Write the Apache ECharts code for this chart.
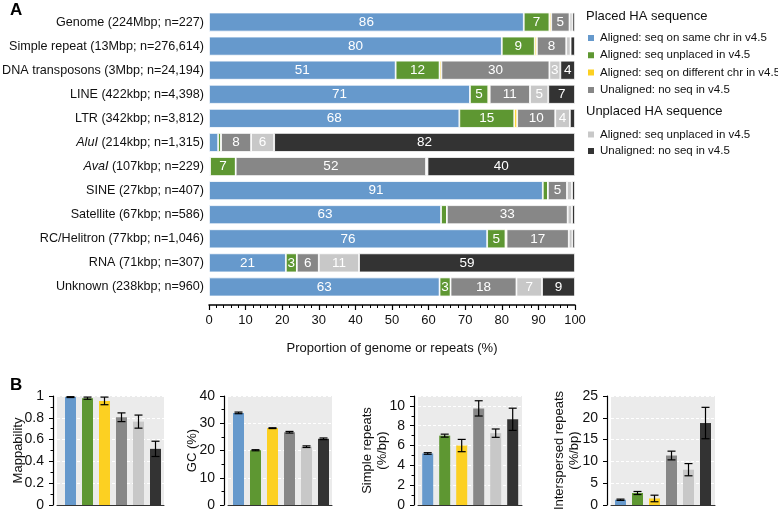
<!DOCTYPE html>
<html><head><meta charset="utf-8">
<script src="https://cdn.jsdelivr.net/npm/echarts@6/dist/echarts.min.js"></script>
<style>html,body{margin:0;padding:0;background:#fff}#c{width:778px;height:510px}</style>
</head><body><div id="c"></div>
<script>
// ---------- Panel A data ----------
const categories = [
  'Genome (224Mbp; n=227)',
  'Simple repeat (13Mbp; n=276,614)',
  'DNA transposons (3Mbp; n=24,194)',
  'LINE (422kbp; n=4,398)',
  'LTR (342kbp; n=3,812)',
  'AluI (214kbp; n=1,315)',
  'AvaI (107kbp; n=229)',
  'SINE (27kbp; n=407)',
  'Satellite (67kbp; n=586)',
  'RC/Helitron (77kbp; n=1,046)',
  'RNA (71kbp; n=307)',
  'Unknown (238kbp; n=960)'
];
const italicNames = ['AluI', 'AvaI'];
const sameChr     = [86, 80, 51, 71.3, 68.4, 2.5, 0.3, 91.2, 63.4, 76, 21, 63];
const unplacedV45 = [7, 9, 12, 5, 15, 0.8, 7, 1.4, 1.6, 5, 3, 3];
const diffChr     = [0.5, 0.6, 0.5, 0.4, 0.8, 0, 0, 0, 0, 0.3, 0, 0];
const noSeq       = [5, 8, 29.5, 11, 10.4, 8.2, 52, 5.2, 33, 17, 6, 18];
const unplAligned = [0.8, 1.2, 3, 5, 4, 6.3, 0.4, 1.4, 1.2, 1, 11, 7];
const unplNoSeq   = [0.7, 1.2, 4, 7.3, 1.4, 82.2, 40.3, 0.8, 0.8, 0.7, 59, 9];
const xTicksA = {min: 0, max: 100, interval: 10};

const legendPlaced = ['Aligned: seq on same chr in v4.5', 'Aligned: seq unplaced in v4.5',
  'Aligned: seq on different chr in v4.5', 'Unaligned: no seq in v4.5'];
const legendUnplaced = ['Aligned: seq unplaced in v4.5', 'Unaligned: no seq in v4.5'];

// ---------- Panel B data ----------
const panelTitles = ['Mappability', 'GC (%)', 'Simple repeats\n(%/bp)', 'Interspersed repeats\n(%/bp)'];
const mapVals  = [0.99, 0.98, 0.955, 0.805, 0.765, 0.515];
const mapErr   = [0.004, 0.01, 0.035, 0.04, 0.06, 0.07];
const gcVals   = [33.8, 20.1, 28.2, 26.7, 21.4, 24.3];
const gcErr    = [0.3, 0.2, 0.15, 0.3, 0.3, 0.3];
const simpVals = [5.2, 7.0, 6.0, 9.75, 7.25, 8.65];
const simpErr  = [0.08, 0.15, 0.62, 0.77, 0.42, 1.12];
const intVals  = [1.2, 2.75, 1.5, 11.35, 8.1, 18.8];
const intErr   = [0.15, 0.35, 0.75, 1.0, 1.4, 3.6];
const yAxesB = [
  {max: 1, interval: 0.2, minor: true},
  {max: 40, interval: 10, minor: true},
  {max: 11, interval: 2, minor: true},
  {max: 25, interval: 5, minor: false}
];

const colors = ['#6699cc', '#5e9732', '#fcd022', '#878787', '#c8c8c8', '#333333'];
const FONT = '"Liberation Sans", Arial, Helvetica, sans-serif';

const chart = echarts.init(document.getElementById('c'), null, {renderer: 'canvas'});

const seriesNames = ['same', 'unpl', 'diff', 'noseq', 'uAl', 'uNo'];
const seriesData = [sameChr, unplacedV45, diffChr, noSeq, unplAligned, unplNoSeq];
const displayNames = {same: legendPlaced[0], unpl: legendPlaced[1], diff: legendPlaced[2],
  noseq: legendPlaced[3], uAl: legendUnplaced[0], uNo: legendUnplaced[1]};

const series = seriesData.map((d, k) => ({
  name: seriesNames[k], type: 'bar', stack: 'a', xAxisIndex: 0, yAxisIndex: 0,
  barWidth: 19, data: d,
  itemStyle: {color: colors[k], borderColor: '#fff', borderWidth: 0.8},
  label: {show: true, position: 'inside', color: '#fff', fontSize: 13.5, fontFamily: FONT,
    formatter: p => (p.value >= 2.8 ? String(Math.round(p.value)) : '')},
  emphasis: {disabled: true}
}));

// panel B grids
const gridLefts = [57, 228, 418, 611];
const gridWidths = [107, 104, 104, 104];
const blueCenters = [70.5, 238.5, 427.7, 620.5];
const nameGaps = [27, 24, 24, 25];
const pitch = 17;
const grids = [{left: 209, top: 10, width: 366, height: 289, outerBoundsMode: 'none', containLabel: false}];
const xAxes = [{
  gridIndex: 0, type: 'value', min: xTicksA.min, max: xTicksA.max, interval: xTicksA.interval,
  offset: 6,
  axisLine: {show: true, lineStyle: {color: '#000', width: 1.5}},
  axisTick: {show: true, length: 5, lineStyle: {color: '#000', width: 1.2}},
  minorTick: {show: true, splitNumber: 5, length: 3, lineStyle: {color: '#000', width: 1}},
  splitLine: {show: false},
  axisLabel: {fontSize: 13, color: '#111', fontFamily: FONT, margin: 9},
  name: 'Proportion of genome or repeats (%)', nameLocation: 'middle', nameGap: 37,
  nameMoveOverlap: false,
  nameTextStyle: {fontSize: 13, color: '#111', fontFamily: FONT}
}];
const yAxes = [{
  gridIndex: 0, type: 'category', data: categories, inverse: true,
  axisLine: {show: false}, axisTick: {show: false},
  axisLabel: {fontSize: 12.6, color: '#111', fontFamily: FONT, margin: 5,
    formatter: v => {
      for (const n of italicNames) {
        if (v.startsWith(n)) return '{i|' + n + '}' + v.slice(n.length);
      }
      return v;
    },
    rich: {i: {fontStyle: 'italic', fontSize: 12.6, color: '#111', fontFamily: FONT}}
  }
}];

const bVals = [mapVals, gcVals, simpVals, intVals];
const bErrs = [mapErr, gcErr, simpErr, intErr];
for (let p = 0; p < 4; p++) {
  const L = gridLefts[p], W = gridWidths[p], bc = blueCenters[p];
  grids.push({left: L, top: 396, width: W, height: 109, show: true,
    backgroundColor: '#ebebeb', borderWidth: 0, outerBoundsMode: 'none', containLabel: false});
  xAxes.push({gridIndex: p + 1, type: 'value', min: (L - bc) / pitch, max: (L + W - bc) / pitch,
    axisLine: {show: true, onZero: false, lineStyle: {color: '#333', width: 1}},
    axisTick: {show: false}, axisLabel: {show: false}, splitLine: {show: false}});
  const ya = yAxesB[p];
  yAxes.push({gridIndex: p + 1, type: 'value', min: 0, max: ya.max, interval: ya.interval,
    offset: 4,
    axisLine: {show: true, onZero: false, lineStyle: {color: '#000', width: 1.2}},
    axisTick: {show: true, length: 4, lineStyle: {color: '#000', width: 1}},
    minorTick: {show: ya.minor, splitNumber: 2, length: 2.5, lineStyle: {color: '#000', width: 1}},
    splitLine: {show: true, lineStyle: {color: '#fff', type: [3, 2], width: 1.2}},
    axisLabel: {fontSize: 14, color: '#111', fontFamily: FONT, margin: 9, showMaxLabel: p !== 2},
    name: panelTitles[p], nameLocation: 'middle', nameGap: nameGaps[p], nameRotate: 90,
    nameMoveOverlap: false,
    nameTextStyle: {fontSize: 13, color: '#111', fontFamily: FONT, lineHeight: 15}
  });
  series.push({
    type: 'bar', xAxisIndex: p + 1, yAxisIndex: p + 1, barWidth: 11, silent: true,
    data: bVals[p].map((v, i) => ({value: [i, v], itemStyle: {color: colors[i]}}))
  });
  series.push({
    type: 'custom', xAxisIndex: p + 1, yAxisIndex: p + 1, silent: true, z: 5,
    data: bVals[p].map((v, i) => [i, v, bErrs[p][i]]),
    renderItem: (params, api) => {
      const x = api.value(0), v = api.value(1), e = api.value(2);
      const hi = api.coord([x, v + e]), lo = api.coord([x, v - e]);
      const hw = 4;
      const st = {stroke: '#000', lineWidth: 1.2};
      return {type: 'group', children: [
        {type: 'line', shape: {x1: hi[0], y1: hi[1], x2: lo[0], y2: lo[1]}, style: st},
        {type: 'line', shape: {x1: hi[0] - hw, y1: hi[1], x2: hi[0] + hw, y2: hi[1]}, style: st},
        {type: 'line', shape: {x1: lo[0] - hw, y1: lo[1], x2: lo[0] + hw, y2: lo[1]}, style: st}
      ]};
    }
  });
}

const legendBase = {
  orient: 'vertical', left: 586, padding: 0, itemWidth: 8, itemHeight: 8,
  icon: 'rect', itemGap: 4.3, selectedMode: false,
  textStyle: {fontSize: 11.5, color: '#111', fontFamily: FONT, lineHeight: 13, padding: [0, 0, 0, 0]},
  formatter: n => displayNames[n]
};

chart.setOption({
  animation: false,
  textStyle: {fontFamily: FONT},
  title: [
    {text: 'A', left: 10, top: 2, padding: 0, textStyle: {fontSize: 17, fontWeight: 'bold', color: '#000', fontFamily: FONT}},
    {text: 'B', left: 10, top: 377, padding: 0, textStyle: {fontSize: 17, fontWeight: 'bold', color: '#000', fontFamily: FONT}},
    {text: 'Placed HA sequence', left: 586, top: 10, padding: 0, textStyle: {fontSize: 13, fontWeight: 'normal', color: '#111', fontFamily: FONT}},
    {text: 'Unplaced HA sequence', left: 586, top: 105, padding: 0, textStyle: {fontSize: 13, fontWeight: 'normal', color: '#111', fontFamily: FONT}}
  ],
  legend: [
    Object.assign({}, legendBase, {top: 31.5, data: ['same', 'unpl', 'diff', 'noseq']}),
    Object.assign({}, legendBase, {top: 128, itemGap: 3.5, data: ['uAl', 'uNo']})
  ],
  grid: grids,
  xAxis: xAxes,
  yAxis: yAxes,
  series: series
});
</script></body></html>
